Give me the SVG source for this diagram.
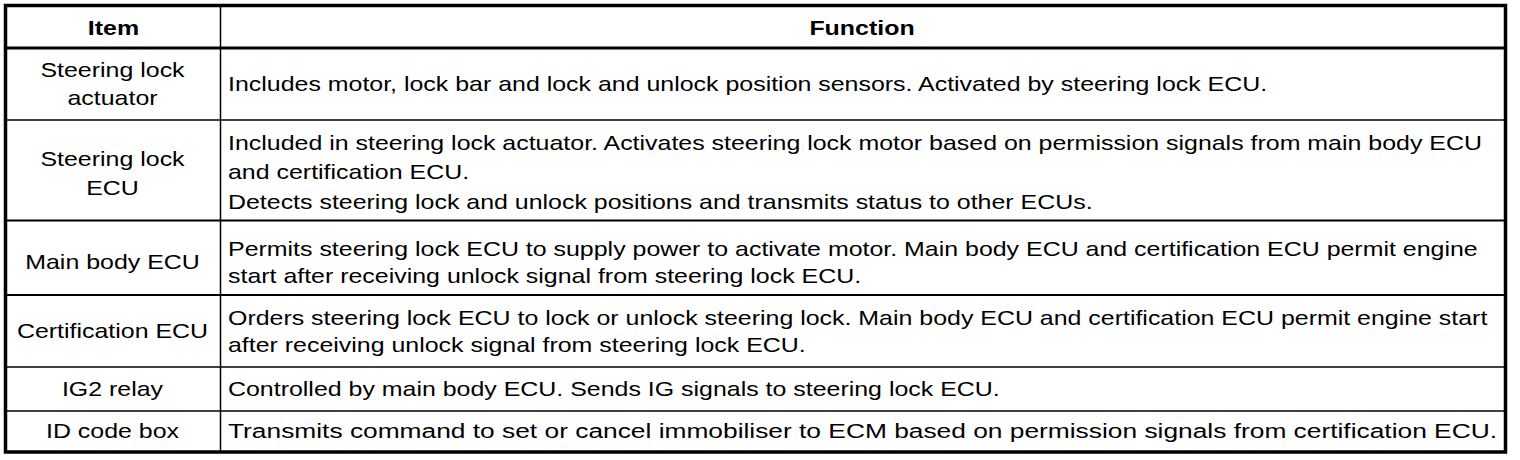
<svg xmlns="http://www.w3.org/2000/svg" width="1520" height="460" viewBox="0 0 1520 460">
<style>
text{font-family:"Liberation Sans",Arial,Helvetica,sans-serif;font-size:20px;fill:#000}
.h{font-weight:bold}
.c{text-anchor:middle}
.grid line{stroke:#000;stroke-width:1.5}
</style>
<rect width="1520" height="460" fill="#fff"/>
<g id="grid" class="grid">
<line x1="220.5" y1="5" x2="220.5" y2="452"/>
<line x1="5" y1="48" x2="1506" y2="48" style="stroke-width:3"/>
<line x1="5" y1="120" x2="1506" y2="120"/>
<line x1="5" y1="220.5" x2="1506" y2="220.5" style="stroke-width:2"/>
<line x1="5" y1="295" x2="1506" y2="295" style="stroke-width:2"/>
<line x1="5" y1="367" x2="1506" y2="367"/>
<line x1="5" y1="411" x2="1506" y2="411"/>
<rect x="5.5" y="5.5" width="1500" height="446.5" fill="none" stroke="#000" stroke-width="3.5"/>
</g>
<g id="header">
<text class="h c" transform="translate(113.5,35) scale(1.247,1)">Item</text>
<text class="h c" transform="translate(862,35) scale(1.247,1)">Function</text>
</g>
<g id="row1">
<text class="c" transform="translate(112.5,77) scale(1.247,1)">Steering lock</text>
<text class="c" transform="translate(112.5,105) scale(1.247,1)">actuator</text>
<text transform="translate(228,91) scale(1.247,1)">Includes motor, lock bar and lock and unlock position sensors. Activated by steering lock ECU.</text>
</g>
<g id="row2">
<text class="c" transform="translate(112.5,166) scale(1.247,1)">Steering lock</text>
<text class="c" transform="translate(112.5,195) scale(1.247,1)">ECU</text>
<text transform="translate(228,150) scale(1.247,1)">Included in steering lock actuator. Activates steering lock motor based on permission signals from main body ECU</text>
<text transform="translate(228,179) scale(1.247,1)">and certification ECU.</text>
<text transform="translate(228,209) scale(1.247,1)">Detects steering lock and unlock positions and transmits status to other ECUs.</text>
</g>
<g id="row3">
<text class="c" transform="translate(112.5,269) scale(1.247,1)">Main body ECU</text>
<text transform="translate(228,256) scale(1.247,1)">Permits steering lock ECU to supply power to activate motor. Main body ECU and certification ECU permit engine</text>
<text transform="translate(228,283) scale(1.247,1)">start after receiving unlock signal from steering lock ECU.</text>
</g>
<g id="row4">
<text class="c" transform="translate(112.5,338) scale(1.247,1)">Certification ECU</text>
<text transform="translate(228,325) scale(1.247,1)">Orders steering lock ECU to lock or unlock steering lock. Main body ECU and certification ECU permit engine start</text>
<text transform="translate(228,352) scale(1.247,1)">after receiving unlock signal from steering lock ECU.</text>
</g>
<g id="row5">
<text class="c" transform="translate(112.5,396) scale(1.247,1)">IG2 relay</text>
<text transform="translate(228,396) scale(1.247,1)">Controlled by main body ECU. Sends IG signals to steering lock ECU.</text>
</g>
<g id="row6">
<text class="c" transform="translate(112.5,438) scale(1.247,1)">ID code box</text>
<text x="228" y="438" textLength="1269" lengthAdjust="spacingAndGlyphs">Transmits command to set or cancel immobiliser to ECM based on permission signals from certification ECU.</text>
</g>
</svg>
